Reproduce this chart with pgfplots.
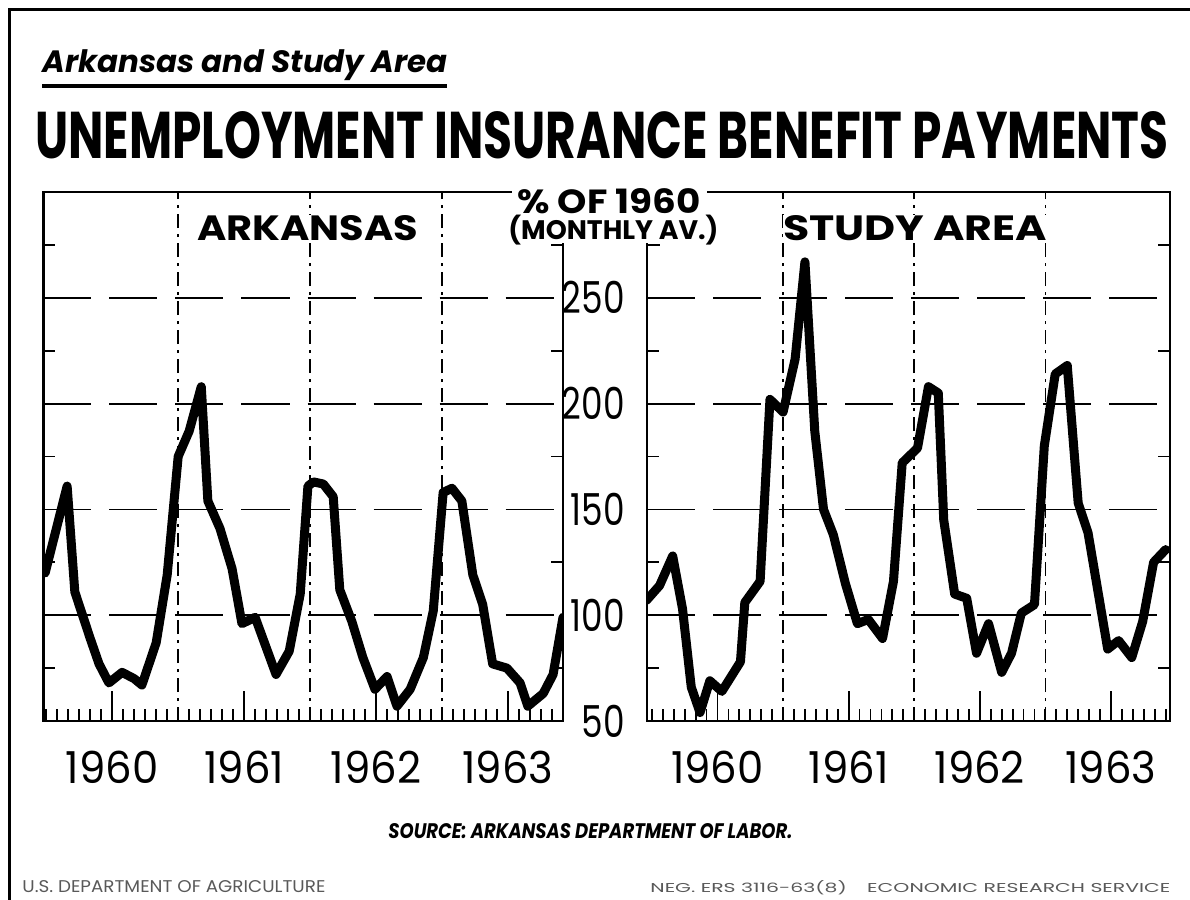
\documentclass[border=0pt]{standalone}
\usepackage{pgfplots}
\pgfplotsset{compat=1.18}
\usepackage{graphicx}
\usepackage{fontspec}
\setmainfont{Poppins}
\newfontfamily\numfont{Poppins}[FakeStretch=0.78]
\newfontfamily\yearfont{Poppins}[FakeStretch=0.95]

\pgfplotsset{
  panel/.style={
    scale only axis,
    height=264.5pt,
    ymin=50, ymax=300,
    axis line style={line width=1.1pt},
    tick align=inside,
    xtick pos=left,
    ytick pos=both,
    tick style={black, line width=0.9pt},
    major tick length=0pt,
    minor tick length=6pt,
    xtick={12,24,36},
    xticklabels={,,},
    minor xtick={0,...,47},
    extra x ticks={6,18,30,42},
    extra x tick labels={1960,1961,1962,1963},
    extra x tick style={major tick length=15pt, grid=none},
    ytick={50,100,150,200,250},
    minor ytick={75,125,175,225,275},
    xmajorgrids=true, ymajorgrids=true,
    x grid style={black, line width=0.8pt, dash pattern=on 7pt off 3pt on 1.5pt off 3pt},
    y grid style={black, line width=0.9pt, dash pattern=on 24pt off 9pt},
    yticklabel style={font=\numfont\fontsize{22}{22}\selectfont, inner sep=0pt, anchor=east, xshift=-11pt},
    xticklabel style={font=\yearfont\fontsize{22}{22}\selectfont, inner sep=0pt, anchor=north, yshift=-15pt},
  },
  curve/.style={black, line width=4.5pt, line join=round, line cap=round, mark=none},
}

\begin{document}
\begin{tikzpicture}[x=0.5pt,y=-0.5pt]
\useasboundingbox (0,0) rectangle (1190,900);
\draw[line width=1.5pt] (9,900) -- (9,9) -- (1190,9);

% ---- Arkansas panel ----
\begin{axis}[panel, at={(21.75pt,-360.5pt)}, anchor=south west,
  width=259.75pt, xmin=-0.25, xmax=47, yticklabels={}]
\addplot[curve] coordinates {
(-0.1,120) (1.9,161) (2.6,111) (4.0,89) (4.8,77) (5.7,68) (6.9,73) (8.0,70)
(8.7,67) (10.0,87) (11.0,119) (12.0,175) (12.5,181) (13.0,187) (14.1,208)
(14.7,154) (15.8,141) (16.9,122) (17.8,96) (19.0,99) (20.9,72) (22.1,83)
(23.1,110) (23.8,161) (24.3,163) (25.2,162) (26.1,156) (26.7,112) (27.8,97)
(28.8,80) (29.9,65) (31.0,71) (31.9,57) (33.1,65) (34.3,80) (35.2,102)
(36.1,158) (36.9,160) (37.8,154) (38.8,119) (39.7,105) (40.6,77) (41.9,75)
(43.1,68) (43.8,57) (45.2,63) (46.1,72) (47.0,99)
};
\end{axis}

% ---- Study area panel ----
\begin{axis}[panel, at={(323.5pt,-360.5pt)}, anchor=south west,
  width=261.5pt, xmin=-0.45, xmax=47.4,
  yticklabels={50,100,150,200,250}]
\addplot[curve] coordinates {
(-0.5,107) (0.7,114) (1.9,128) (2.8,103) (3.6,66) (4.4,54) (5.3,69) (6.4,64)
(8.1,78) (8.5,106) (9.9,116) (10.8,202) (12.0,196) (13.1,221) (14.0,267)
(14.9,187) (15.7,150) (16.6,138) (17.7,115) (18.8,96) (19.8,98) (21.1,89)
(22.1,116) (22.9,172) (24.3,179) (25.3,208) (26.2,205) (26.7,145) (27.7,110)
(28.8,108) (29.7,82) (30.8,96) (32.0,73) (32.9,82) (33.8,101) (35.0,105)
(35.9,180) (36.9,214) (38.0,218) (39.0,153) (39.9,139) (41.7,84) (42.7,88)
(43.9,80) (44.9,97) (45.9,125) (47.0,131)
};
\end{axis}

% cover the frame behind the central heading
\fill[white] (512,184) rectangle (707,243);
\draw[line width=1.1pt] (553,245) -- (563,245);
\draw[line width=1.1pt] (647,245) -- (660,245);

% titles
\node[anchor=base west, inner sep=0pt] at (42,72)
  {\resizebox{202.5pt}{!}{\bfseries\itshape Arkansas and Study Area}};
\draw[line width=2pt] (42,86) -- (447,86);
\node[anchor=base west, inner sep=0pt] at (35,158)
  {\resizebox{566.5pt}{23.5pt}{\bfseries UNEMPLOYMENT INSURANCE BENEFIT PAYMENTS}};

% panel names
\node[anchor=base west, inner sep=0pt, fill=white, outer sep=0pt] at (197,240)
  {\resizebox{110.5pt}{12.5pt}{\bfseries ARKANSAS}};
\node[anchor=base west, inner sep=0pt, fill=white, outer sep=0pt] at (783,240)
  {\resizebox{132pt}{12.5pt}{\bfseries STUDY AREA}};

% y axis heading
\node[anchor=base west, inner sep=0pt] at (517,213)
  {\resizebox{91.5pt}{12.5pt}{\bfseries \% OF 1960}};
\node[anchor=base west, inner sep=0pt] at (508,239)
  {\resizebox{105pt}{!}{\bfseries (MONTHLY AV.)}};

% source and credits
\node[anchor=base west, inner sep=0pt] at (388,838)
  {\resizebox{202pt}{7.5pt}{\bfseries\itshape SOURCE: ARKANSAS DEPARTMENT OF LABOR.}};
\node[anchor=base west, inner sep=0pt, text=black!65] at (22,892)
  {\resizebox{151.5pt}{6pt}{U.S. DEPARTMENT OF AGRICULTURE}};
\node[anchor=base west, inner sep=0pt, text=black!65] at (650,892)
  {\resizebox{260pt}{6pt}{NEG. ERS 3116-63(8)\quad ECONOMIC RESEARCH SERVICE}};
\end{tikzpicture}
\end{document}
